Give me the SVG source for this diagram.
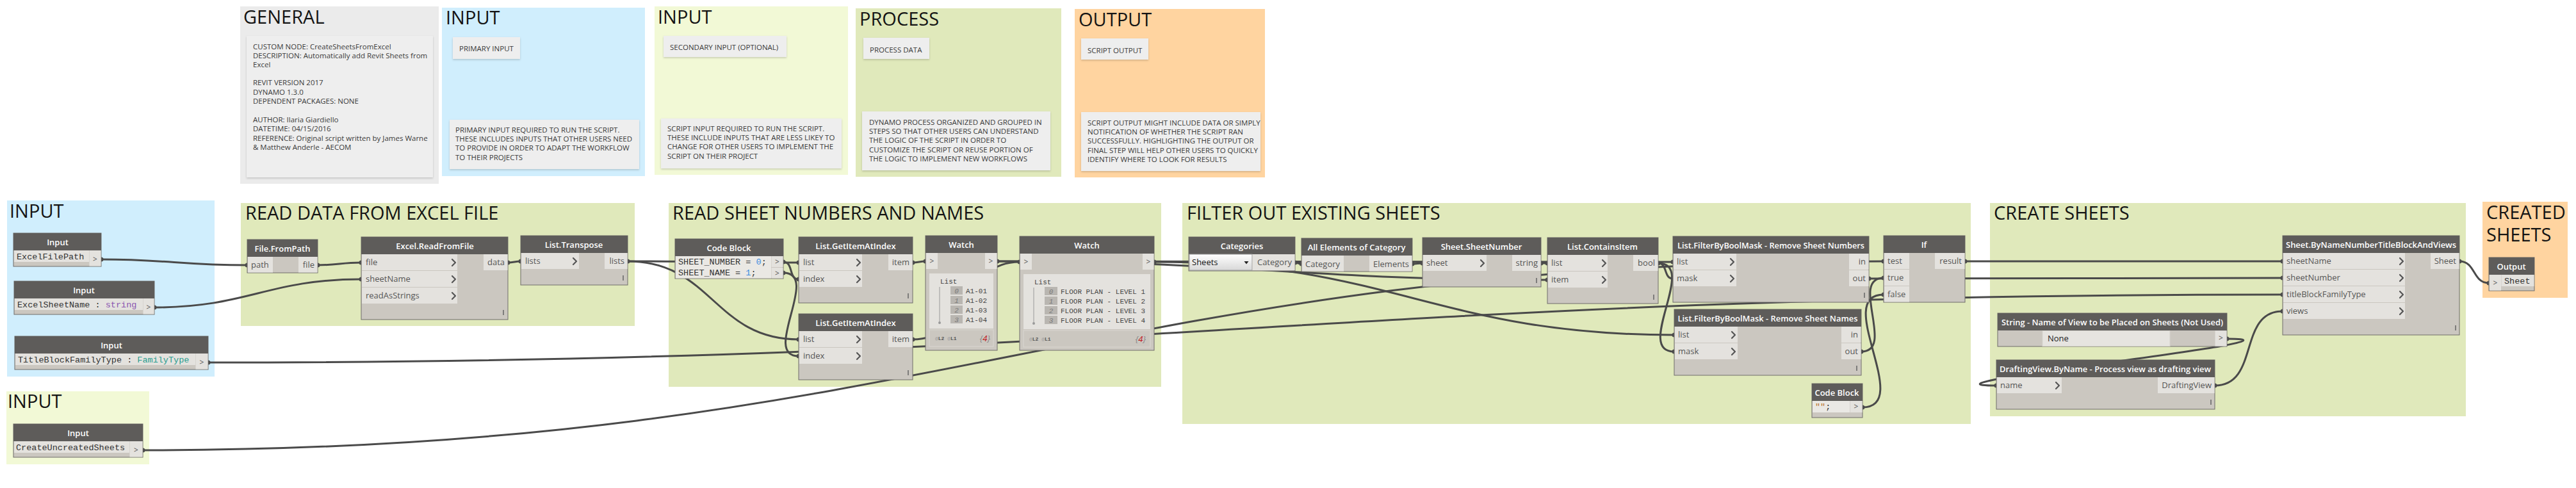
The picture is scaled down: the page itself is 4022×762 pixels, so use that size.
<svg xmlns="http://www.w3.org/2000/svg" width="4022" height="762" viewBox="0 0 4022 762">
<defs>
<style>
text { font-family: "Open Sans", "Liberation Sans", sans-serif; }
.gt { font-size: 29px; fill: #141414; }
.nt { font-size: 11.5px; fill: #3a3a3a; }
.note { fill: #EEEEEE; filter: url(#sh); }
.body { fill: #CBC7C0; stroke: #6F6D6B; stroke-width: 1; }
.hdr { fill: #5E5C5A; }
.lbl { fill: #E4E2DE; }
.code { fill: #EAE8E4; }
.tt { font-size: 13px; font-weight: 600; fill: #FFFFFF; text-anchor: middle; }
.pl { font-size: 13px; fill: #555555; }
.po { font-size: 13px; fill: #555555; text-anchor: end; }
.chev { fill: none; stroke: #555555; stroke-width: 2.2; stroke-linecap: round; stroke-linejoin: round; }
.lace { stroke: #6A6A6A; stroke-width: 1.6; }
.mono { font-family: "Liberation Mono", "DejaVu Sans Mono", monospace; }
.val { font-size: 13.5px; fill: #333333; }
.arr { font-size: 12px; fill: #555555; text-anchor: middle; }
.wv { font-size: 11px; fill: #444444; }
.wi { font-size: 11px; fill: #7A7A7A; font-style: italic; text-anchor: middle; }
.ib { fill: #B9B6B1; }
.lv { font-size: 8px; font-weight: bold; fill: #555555; }
.cnt { font-size: 13px; font-style: italic; fill: #888888; text-anchor: end; }
.wire { fill: none; stroke: #4A4A4A; stroke-width: 3; }
.knob { fill: #4A4A4A; }
.wpanel { fill: #E4E2DE; }
.wfoot { fill: none; stroke: #DAD7D2; stroke-width: 1; }
</style>
<filter id="sh" x="-5%" y="-10%" width="110%" height="125%">
<feDropShadow dx="0" dy="1.5" stdDeviation="1.5" flood-color="#000000" flood-opacity="0.18"/>
</filter>
<linearGradient id="dd" x1="0" y1="0" x2="0" y2="1">
<stop offset="0" stop-color="#FFFFFF"/>
<stop offset="1" stop-color="#D8D8D8"/>
</linearGradient>
</defs>
<rect x="0" y="0" width="4022" height="762" fill="#FFFFFF"/>

<!-- Legend groups -->
<g id="legend-general">
<rect x="375" y="10" width="310" height="277" fill="#EBEBEB"/>
<text class="gt" x="380" y="37">GENERAL</text>
<rect class="note" x="385" y="56" width="291" height="221"/>
<text class="nt" x="395" y="77">CUSTOM NODE: CreateSheetsFromExcel</text>
<text class="nt" x="395" y="91">DESCRIPTION: Automatically add Revit Sheets from</text>
<text class="nt" x="395" y="105">Excel</text>
<text class="nt" x="395" y="133">REVIT VERSION 2017</text>
<text class="nt" x="395" y="148">DYNAMO 1.3.0</text>
<text class="nt" x="395" y="162">DEPENDENT PACKAGES: NONE</text>
<text class="nt" x="395" y="191">AUTHOR: Ilaria Giardiello</text>
<text class="nt" x="395" y="205">DATETIME: 04/15/2016</text>
<text class="nt" x="395" y="220">REFERENCE: Original script written by James Warne</text>
<text class="nt" x="395" y="234">&amp; Matthew Anderle - AECOM</text>
</g>
<g id="legend-input-primary">
<rect x="690" y="12" width="317" height="263" fill="#D0EEFD"/>
<text class="gt" x="696" y="38">INPUT</text>
<rect class="note" x="707" y="58" width="105" height="34"/>
<text class="nt" x="717" y="80">PRIMARY INPUT</text>
<rect class="note" x="702" y="187" width="296" height="77"/>
<text class="nt" x="711" y="207">PRIMARY INPUT REQUIRED TO RUN THE SCRIPT.</text>
<text class="nt" x="711" y="221">THESE INCLUDES INPUTS THAT OTHER USERS NEED</text>
<text class="nt" x="711" y="235">TO PROVIDE IN ORDER TO ADAPT THE WORKFLOW</text>
<text class="nt" x="711" y="250">TO THEIR PROJECTS</text>
</g>
<g id="legend-input-secondary">
<rect x="1022" y="10" width="302" height="263" fill="#F2F9D6"/>
<text class="gt" x="1027" y="37">INPUT</text>
<rect class="note" x="1036" y="56" width="192" height="33"/>
<text class="nt" x="1046" y="78">SECONDARY INPUT (OPTIONAL)</text>
<rect class="note" x="1032" y="185" width="282" height="78"/>
<text class="nt" x="1042" y="205">SCRIPT INPUT REQUIRED TO RUN THE SCRIPT.</text>
<text class="nt" x="1042" y="219">THESE INCLUDE INPUTS THAT ARE LESS LIKEY TO</text>
<text class="nt" x="1042" y="233">CHANGE FOR OTHER USERS TO IMPLEMENT THE</text>
<text class="nt" x="1042" y="248">SCRIPT ON THEIR PROJECT</text>
</g>
<g id="legend-process">
<rect x="1336" y="13" width="321" height="263" fill="#E0E9BB"/>
<text class="gt" x="1342" y="40">PROCESS</text>
<rect class="note" x="1348" y="59" width="103" height="33"/>
<text class="nt" x="1358" y="82">PROCESS DATA</text>
<rect class="note" x="1346" y="174" width="294" height="92"/>
<text class="nt" x="1357" y="195">DYNAMO PROCESS ORGANIZED AND GROUPED IN</text>
<text class="nt" x="1357" y="209">STEPS SO THAT OTHER USERS CAN UNDERSTAND</text>
<text class="nt" x="1357" y="223">THE LOGIC OF THE SCRIPT IN ORDER TO</text>
<text class="nt" x="1357" y="238">CUSTOMIZE THE SCRIPT OR REUSE PORTION OF</text>
<text class="nt" x="1357" y="252">THE LOGIC TO IMPLEMENT NEW WORKFLOWS</text>
</g>
<g id="legend-output">
<rect x="1678" y="14" width="297" height="263" fill="#FFD4A0"/>
<text class="gt" x="1684" y="41">OUTPUT</text>
<rect class="note" x="1688" y="60" width="105" height="33"/>
<text class="nt" x="1698" y="83">SCRIPT OUTPUT</text>
<rect class="note" x="1688" y="175" width="280" height="92"/>
<text class="nt" x="1698" y="196">SCRIPT OUTPUT MIGHT INCLUDE DATA OR SIMPLY</text>
<text class="nt" x="1698" y="210">NOTIFICATION OF WHETHER THE SCRIPT RAN</text>
<text class="nt" x="1698" y="224">SUCCESSFULLY. HIGHLIGHTING THE OUTPUT OR</text>
<text class="nt" x="1698" y="239">FINAL STEP WILL HELP OTHER USERS TO QUICKLY</text>
<text class="nt" x="1698" y="253">IDENTIFY WHERE TO LOOK FOR RESULTS</text>
</g>

<!-- Workflow groups -->
<g id="group-input">
<rect x="11" y="313" width="324" height="275" fill="#D0EEFD"/>
<text class="gt" x="15" y="340">INPUT</text>
</g>
<g id="group-read-excel">
<rect x="376" y="317" width="615" height="192" fill="#E0E9BB"/>
<text class="gt" x="383" y="343">READ DATA FROM EXCEL FILE</text>
</g>
<g id="group-read-sheets">
<rect x="1044" y="317" width="769" height="287" fill="#E0E9BB"/>
<text class="gt" x="1050" y="343">READ SHEET NUMBERS AND NAMES</text>
</g>
<g id="group-filter">
<rect x="1846" y="317" width="1231" height="345" fill="#E0E9BB"/>
<text class="gt" x="1853" y="343">FILTER OUT EXISTING SHEETS</text>
</g>
<g id="group-create">
<rect x="3107" y="317" width="743" height="333" fill="#E0E9BB"/>
<text class="gt" x="3113" y="343">CREATE SHEETS</text>
</g>
<g id="group-created">
<rect x="3876" y="315" width="133" height="150" fill="#FFD4A0"/>
<text class="gt" x="3882" y="342">CREATED</text>
<text class="gt" x="3882" y="377">SHEETS</text>
</g>
<g id="group-input-bottom">
<rect x="10" y="611" width="223" height="114" fill="#F2F9D6"/>
<text class="gt" x="12" y="637">INPUT</text>
</g>

<!-- Connectors -->
<g id="connectors">
<path class="wire" d="M158 405 C260.7 405 283.3 414 386 414"/>
<path class="wire" d="M241 480 C387.7 480 417.3 436 564 436"/>
<path class="wire" d="M325 566 C1783.3 566 2105.7 460 3564 460"/>
<path class="wire" d="M223 703 C1453.3 703 1710.7 408 2941 408"/>
<path class="wire" d="M496 414 C526.6 414 533.4 410 564 410"/>
<path class="wire" d="M793 410 C802 410 804 408 813 408"/>
<path class="wire" d="M980 408 C1100.2 408 1126.8 410 1247 410"/>
<path class="wire" d="M980 408 C1112.1 408 1114.9 530 1247 530"/>
<path class="wire" d="M1223 409 C1239.2 409 1230.8 436 1247 436"/>
<path class="wire" d="M1223 426 C1282.5 426 1187.5 556 1247 556"/>
<path class="wire" d="M1425 410 C1434 410 1436 408 1445 408"/>
<path class="wire" d="M1425 530 C1517.8 530 1499.2 409 1592 409"/>
<path class="wire" d="M1557 408 C1943.8 408 2029.2 437 2416 437"/>
<path class="wire" d="M1557 408 C2031.8 408 2137.2 409 2612 409"/>
<path class="wire" d="M1802 409 C2171 409 2245 523 2614 523"/>
<path class="wire" d="M2022 410 C2026.5 410 2027.5 412 2032 412"/>
<path class="wire" d="M2205 412 C2212 412 2214 411 2221 411"/>
<path class="wire" d="M2406 411 L2416 411"/>
<path class="wire" d="M2589 411 C2604 411 2597 435 2612 435"/>
<path class="wire" d="M2589 411 C2652.1 411 2550.9 549 2614 549"/>
<path class="wire" d="M2918 435 C3208.7 435 3273.3 434 3564 434"/>
<path class="wire" d="M2906 549 C2960.1 549 2886.9 434 2941 434"/>
<path class="wire" d="M2908 636 C2988.6 636 2860.4 460 2941 460"/>
<path class="wire" d="M3068 408 C3291.2 408 3340.8 408 3564 408"/>
<path class="wire" d="M3477 529 C3642.3 529 2951.7 602 3117 602"/>
<path class="wire" d="M3458 602 C3528.7 602 3493.3 486 3564 486"/>
<path class="wire" d="M3840 408 C3865.7 408 3860.3 442 3886 442"/>
<g class="knob">
<circle cx="158" cy="405" r="3.5"/><circle cx="386" cy="414" r="3.5"/>
<circle cx="241" cy="480" r="3.5"/><circle cx="564" cy="436" r="3.5"/>
<circle cx="325" cy="566" r="3.5"/><circle cx="3564" cy="460" r="3.5"/>
<circle cx="223" cy="703" r="3.5"/><circle cx="2941" cy="408" r="3.5"/>
<circle cx="496" cy="414" r="3.5"/><circle cx="564" cy="410" r="3.5"/>
<circle cx="793" cy="410" r="3.5"/><circle cx="813" cy="408" r="3.5"/>
<circle cx="980" cy="408" r="3.5"/><circle cx="1247" cy="410" r="3.5"/><circle cx="1247" cy="530" r="3.5"/>
<circle cx="1223" cy="409" r="3.5"/><circle cx="1247" cy="436" r="3.5"/>
<circle cx="1223" cy="426" r="3.5"/><circle cx="1247" cy="556" r="3.5"/>
<circle cx="1425" cy="410" r="3.5"/><circle cx="1445" cy="408" r="3.5"/>
<circle cx="1425" cy="530" r="3.5"/><circle cx="1592" cy="409" r="3.5"/>
<circle cx="1557" cy="408" r="3.5"/><circle cx="2416" cy="437" r="3.5"/><circle cx="2612" cy="409" r="3.5"/>
<circle cx="1802" cy="409" r="3.5"/><circle cx="2614" cy="523" r="3.5"/>
<circle cx="2022" cy="410" r="3.5"/><circle cx="2032" cy="412" r="3.5"/>
<circle cx="2205" cy="412" r="3.5"/><circle cx="2221" cy="411" r="3.5"/>
<circle cx="2406" cy="411" r="3.5"/><circle cx="2416" cy="411" r="3.5"/>
<circle cx="2589" cy="411" r="3.5"/><circle cx="2612" cy="435" r="3.5"/><circle cx="2614" cy="549" r="3.5"/>
<circle cx="2918" cy="435" r="3.5"/><circle cx="3564" cy="434" r="3.5"/>
<circle cx="2906" cy="549" r="3.5"/><circle cx="2941" cy="434" r="3.5"/>
<circle cx="2908" cy="636" r="3.5"/><circle cx="2941" cy="460" r="3.5"/>
<circle cx="3068" cy="408" r="3.5"/><circle cx="3564" cy="408" r="3.5"/>
<circle cx="3477" cy="529" r="3.5"/><circle cx="3117" cy="602" r="3.5"/>
<circle cx="3458" cy="602" r="3.5"/><circle cx="3564" cy="486" r="3.5"/>
<circle cx="3840" cy="408" r="3.5"/><circle cx="3886" cy="442" r="3.5"/>
</g>
</g>

<!-- Nodes -->
<g id="node-input-excelfilepath">
<rect class="body" x="21" y="364" width="137" height="52"/>
<rect class="hdr" x="21" y="364" width="137" height="27"/>
<text class="tt" x="90" y="383">Input</text>
<rect class="lbl" x="22" y="391" width="117" height="18"/>
<rect class="lbl" x="139.5" y="391" width="18" height="24.5"/>
<text class="mono val" x="26" y="405">ExcelFilePath</text>
<text class="arr" x="148.5" y="409">&gt;</text>
</g>
<g id="node-input-excelsheetname">
<rect class="body" x="22" y="439" width="219" height="52"/>
<rect class="hdr" x="22" y="439" width="219" height="27"/>
<text class="tt" x="131" y="458">Input</text>
<rect class="lbl" x="23" y="466" width="200" height="18"/>
<rect class="lbl" x="223.5" y="466" width="17" height="24.5"/>
<text class="mono val" x="27" y="480">ExcelSheetName : <tspan fill="#8A55B0">string</tspan></text>
<text class="arr" x="232" y="484">&gt;</text>
</g>
<g id="node-input-titleblock">
<rect class="body" x="23" y="525" width="302" height="52"/>
<rect class="hdr" x="23" y="525" width="302" height="27"/>
<text class="tt" x="174" y="544">Input</text>
<rect class="lbl" x="24" y="552" width="281" height="18"/>
<rect class="lbl" x="305.5" y="552" width="19" height="24.5"/>
<text class="mono val" x="28" y="566">TitleBlockFamilyType : <tspan fill="#2A9D8F">FamilyType</tspan></text>
<text class="arr" x="315" y="570">&gt;</text>
</g>
<g id="node-input-createuncreated">
<rect class="body" x="21" y="662" width="202" height="52"/>
<rect class="hdr" x="21" y="662" width="202" height="27"/>
<text class="tt" x="122" y="681">Input</text>
<rect class="lbl" x="22" y="689" width="180" height="18"/>
<rect class="lbl" x="202.5" y="689" width="20" height="24.5"/>
<text class="mono val" x="25" y="703">CreateUncreatedSheets</text>
<text class="arr" x="212.5" y="707">&gt;</text>
</g>

<g id="node-file-frompath">
<rect class="body" x="386" y="374" width="110" height="52"/>
<rect class="hdr" x="386" y="374" width="110" height="27"/>
<text class="tt" x="441" y="393">File.FromPath</text>
<rect class="lbl" x="387" y="401" width="39" height="24.5"/>
<rect class="lbl" x="466" y="401" width="29.5" height="24.5"/>
<text class="pl" x="392" y="418">path</text>
<text class="po" x="491" y="418">file</text>
</g>
<g id="node-excel-readfromfile">
<rect class="body" x="564" y="370" width="229" height="129"/>
<rect class="hdr" x="564" y="370" width="229" height="27"/>
<text class="tt" x="679" y="389">Excel.ReadFromFile</text>
<rect class="lbl" x="565" y="397" width="149" height="25"/>
<rect class="lbl" x="565" y="423" width="149" height="25"/>
<rect class="lbl" x="565" y="449" width="149" height="25"/>
<text class="pl" x="571" y="414">file</text>
<text class="pl" x="571" y="440">sheetName</text>
<text class="pl" x="571" y="466">readAsStrings</text>
<path class="chev" d="M706 405 L711 410 L706 415 M706 431 L711 436 L706 441 M706 457 L711 462 L706 467"/>
<rect class="lbl" x="755" y="397" width="37.5" height="25"/>
<text class="po" x="788" y="414">data</text>
<line class="lace" x1="786" y1="484" x2="786" y2="492"/>
</g>
<g id="node-list-transpose">
<rect class="body" x="813" y="368" width="167" height="77"/>
<rect class="hdr" x="813" y="368" width="167" height="27"/>
<text class="tt" x="896" y="387">List.Transpose</text>
<rect class="lbl" x="814" y="395" width="90" height="25"/>
<text class="pl" x="820" y="412">lists</text>
<path class="chev" d="M895 403 L900 408 L895 413"/>
<rect class="lbl" x="944" y="395" width="35.5" height="25"/>
<text class="po" x="975" y="412">lists</text>
<line class="lace" x1="973" y1="430" x2="973" y2="438"/>
</g>

<g id="node-code-block-indices">
<rect class="body" x="1054" y="373" width="169" height="62"/>
<rect class="hdr" x="1054" y="373" width="169" height="27"/>
<text class="tt" x="1138" y="392">Code Block</text>
<rect class="code" x="1055" y="400" width="149" height="34.5"/>
<rect class="lbl" x="1204.5" y="400" width="18" height="17"/>
<rect class="lbl" x="1204.5" y="418" width="18" height="16.5"/>
<text class="mono val" x="1059" y="413">SHEET_NUMBER = <tspan fill="#3C8CE0">0</tspan>;</text>
<text class="mono val" x="1059" y="430">SHEET_NAME = <tspan fill="#3C8CE0">1</tspan>;</text>
<text class="arr" x="1213.5" y="413">&gt;</text>
<text class="arr" x="1213.5" y="431">&gt;</text>
</g>
<g id="node-getitem-numbers">
<rect class="body" x="1247" y="370" width="178" height="103"/>
<rect class="hdr" x="1247" y="370" width="178" height="27"/>
<text class="tt" x="1336" y="389">List.GetItemAtIndex</text>
<rect class="lbl" x="1248" y="397" width="98" height="25"/>
<rect class="lbl" x="1248" y="423" width="98" height="25"/>
<text class="pl" x="1254" y="414">list</text>
<text class="pl" x="1254" y="440">index</text>
<path class="chev" d="M1338 405 L1343 410 L1338 415 M1338 431 L1343 436 L1338 441"/>
<rect class="lbl" x="1387" y="397" width="37.5" height="25"/>
<text class="po" x="1420" y="414">item</text>
<line class="lace" x1="1418" y1="458" x2="1418" y2="466"/>
</g>
<g id="node-getitem-names">
<rect class="body" x="1247" y="490" width="178" height="103"/>
<rect class="hdr" x="1247" y="490" width="178" height="27"/>
<text class="tt" x="1336" y="509">List.GetItemAtIndex</text>
<rect class="lbl" x="1248" y="517" width="98" height="25"/>
<rect class="lbl" x="1248" y="543" width="98" height="25"/>
<text class="pl" x="1254" y="534">list</text>
<text class="pl" x="1254" y="560">index</text>
<path class="chev" d="M1338 525 L1343 530 L1338 535 M1338 551 L1343 556 L1338 561"/>
<rect class="lbl" x="1387" y="517" width="37.5" height="25"/>
<text class="po" x="1420" y="534">item</text>
<line class="lace" x1="1418" y1="578" x2="1418" y2="586"/>
</g>
<g id="node-watch-numbers">
<rect class="body" x="1445" y="368" width="112" height="179"/>
<rect class="hdr" x="1445" y="368" width="112" height="27"/>
<text class="tt" x="1501" y="387">Watch</text>
<rect class="lbl" x="1446" y="395" width="18" height="25"/>
<rect class="lbl" x="1538" y="395" width="18.5" height="25"/>
<text class="arr" x="1455" y="412">&gt;</text>
<text class="arr" x="1547" y="412">&gt;</text>
<rect class="wpanel" x="1451" y="427" width="100" height="86"/>
<text class="mono wv" x="1468" y="443">List</text>
<line x1="1467" y1="448" x2="1467" y2="503" stroke="#9A9A9A" stroke-width="1"/>
<circle cx="1467" cy="504" r="2" fill="#9A9A9A"/>
<rect class="ib" x="1484" y="447" width="19" height="13"/>
<rect class="ib" x="1484" y="462" width="19" height="13"/>
<rect class="ib" x="1484" y="477" width="19" height="13"/>
<rect class="ib" x="1484" y="492" width="19" height="13"/>
<text class="mono wi" x="1493.5" y="458">0</text>
<text class="mono wi" x="1493.5" y="473">1</text>
<text class="mono wi" x="1493.5" y="488">2</text>
<text class="mono wi" x="1493.5" y="503">3</text>
<text class="mono wv" x="1508" y="458">A1-01</text>
<text class="mono wv" x="1508" y="473">A1-02</text>
<text class="mono wv" x="1508" y="488">A1-03</text>
<text class="mono wv" x="1508" y="503">A1-04</text>
<rect class="wfoot" x="1451" y="515" width="100" height="26"/>
<text class="mono lv" x="1460" y="531"><tspan fill="#A5A5A5">@</tspan>L2 <tspan fill="#A5A5A5">@</tspan>L1</text>
<text class="cnt" x="1546" y="533">{<tspan fill="#C0141B">4</tspan>}</text>
</g>
<g id="node-watch-names">
<rect class="body" x="1592" y="369" width="210" height="178"/>
<rect class="hdr" x="1592" y="369" width="210" height="27"/>
<text class="tt" x="1697" y="388">Watch</text>
<rect class="lbl" x="1593" y="396" width="18" height="25"/>
<rect class="lbl" x="1784" y="396" width="17.5" height="25"/>
<text class="arr" x="1602" y="413">&gt;</text>
<text class="arr" x="1793" y="413">&gt;</text>
<rect class="wpanel" x="1598" y="428" width="198" height="86"/>
<text class="mono wv" x="1615" y="444">List</text>
<line x1="1614" y1="449" x2="1614" y2="504" stroke="#9A9A9A" stroke-width="1"/>
<circle cx="1614" cy="505" r="2" fill="#9A9A9A"/>
<rect class="ib" x="1631" y="448" width="20" height="13"/>
<rect class="ib" x="1631" y="463" width="20" height="13"/>
<rect class="ib" x="1631" y="478" width="20" height="13"/>
<rect class="ib" x="1631" y="493" width="20" height="13"/>
<text class="mono wi" x="1641" y="459">0</text>
<text class="mono wi" x="1641" y="474">1</text>
<text class="mono wi" x="1641" y="489">2</text>
<text class="mono wi" x="1641" y="504">3</text>
<text class="mono wv" x="1656" y="459">FLOOR PLAN - LEVEL 1</text>
<text class="mono wv" x="1656" y="474">FLOOR PLAN - LEVEL 2</text>
<text class="mono wv" x="1656" y="489">FLOOR PLAN - LEVEL 3</text>
<text class="mono wv" x="1656" y="504">FLOOR PLAN - LEVEL 4</text>
<rect class="wfoot" x="1598" y="516" width="198" height="26"/>
<text class="mono lv" x="1607" y="532"><tspan fill="#A5A5A5">@</tspan>L2 <tspan fill="#A5A5A5">@</tspan>L1</text>
<text class="cnt" x="1789" y="534">{<tspan fill="#C0141B">4</tspan>}</text>
</g>

<g id="node-categories">
<rect class="body" x="1856" y="370" width="166" height="53"/>
<rect class="hdr" x="1856" y="370" width="166" height="27"/>
<text class="tt" x="1939" y="389">Categories</text>
<rect x="1857" y="397" width="98" height="25" fill="url(#dd)" stroke="#9A9A9A" stroke-width="1"/>
<text x="1861" y="414" font-size="13" fill="#111111">Sheets</text>
<path d="M1942.5 408 L1949.5 408 L1946 412.5 Z" fill="#222222"/>
<rect class="lbl" x="1955.5" y="397" width="66" height="25"/>
<text class="po" x="2017" y="414">Category</text>
</g>
<g id="node-all-elements-of-category">
<rect class="body" x="2032" y="372" width="173" height="52"/>
<rect class="hdr" x="2032" y="372" width="173" height="27"/>
<text class="tt" x="2118" y="391">All Elements of Category</text>
<rect class="lbl" x="2033" y="399" width="65" height="24.5"/>
<rect class="lbl" x="2138" y="399" width="66.5" height="24.5"/>
<text class="pl" x="2038" y="417">Category</text>
<text class="po" x="2200" y="417">Elements</text>
</g>
<g id="node-sheet-sheetnumber">
<rect class="body" x="2221" y="371" width="185" height="77"/>
<rect class="hdr" x="2221" y="371" width="185" height="27"/>
<text class="tt" x="2313" y="390">Sheet.SheetNumber</text>
<rect class="lbl" x="2222" y="398" width="99" height="25"/>
<text class="pl" x="2227" y="415">sheet</text>
<path class="chev" d="M2312 406 L2317 411 L2312 416"/>
<rect class="lbl" x="2361" y="398" width="44.5" height="25"/>
<text class="po" x="2401" y="415">string</text>
<line class="lace" x1="2399" y1="434" x2="2399" y2="442"/>
</g>
<g id="node-list-containsitem">
<rect class="body" x="2416" y="371" width="173" height="103"/>
<rect class="hdr" x="2416" y="371" width="173" height="27"/>
<text class="tt" x="2502" y="390">List.ContainsItem</text>
<rect class="lbl" x="2417" y="398" width="93" height="25"/>
<rect class="lbl" x="2417" y="424" width="93" height="25"/>
<text class="pl" x="2422" y="415">list</text>
<text class="pl" x="2422" y="441">item</text>
<path class="chev" d="M2502 406 L2507 411 L2502 416 M2502 432 L2507 437 L2502 442"/>
<rect class="lbl" x="2550" y="398" width="38.5" height="25"/>
<text class="po" x="2584" y="415">bool</text>
<line class="lace" x1="2582" y1="460" x2="2582" y2="468"/>
</g>
<g id="node-filter-sheet-numbers">
<rect class="body" x="2612" y="369" width="306" height="103"/>
<rect class="hdr" x="2612" y="369" width="306" height="27"/>
<text class="tt" x="2765" y="388" textLength="292" lengthAdjust="spacingAndGlyphs">List.FilterByBoolMask - Remove Sheet Numbers</text>
<rect class="lbl" x="2613" y="396" width="98" height="25"/>
<rect class="lbl" x="2613" y="422" width="98" height="25"/>
<text class="pl" x="2618" y="413">list</text>
<text class="pl" x="2618" y="439">mask</text>
<path class="chev" d="M2702 404 L2707 409 L2702 414 M2702 430 L2707 435 L2702 440"/>
<rect class="lbl" x="2887" y="396" width="30.5" height="25"/>
<rect class="lbl" x="2887" y="422" width="30.5" height="25"/>
<text class="po" x="2913" y="413">in</text>
<text class="po" x="2913" y="439">out</text>
<line class="lace" x1="2911" y1="457" x2="2911" y2="465"/>
</g>
<g id="node-filter-sheet-names">
<rect class="body" x="2614" y="483" width="292" height="103"/>
<rect class="hdr" x="2614" y="483" width="292" height="27"/>
<text class="tt" x="2760" y="502" textLength="281" lengthAdjust="spacingAndGlyphs">List.FilterByBoolMask - Remove Sheet Names</text>
<rect class="lbl" x="2615" y="510" width="98" height="25"/>
<rect class="lbl" x="2615" y="536" width="98" height="25"/>
<text class="pl" x="2620" y="527">list</text>
<text class="pl" x="2620" y="553">mask</text>
<path class="chev" d="M2704 518 L2709 523 L2704 528 M2704 544 L2709 549 L2704 554"/>
<rect class="lbl" x="2875" y="510" width="30.5" height="25"/>
<rect class="lbl" x="2875" y="536" width="30.5" height="25"/>
<text class="po" x="2901" y="527">in</text>
<text class="po" x="2901" y="553">out</text>
<line class="lace" x1="2899" y1="571" x2="2899" y2="579"/>
</g>
<g id="node-if">
<rect class="body" x="2941" y="368" width="127" height="104"/>
<rect class="hdr" x="2941" y="368" width="127" height="27"/>
<text class="tt" x="3004" y="387">If</text>
<rect class="lbl" x="2942" y="395" width="39" height="25"/>
<rect class="lbl" x="2942" y="421" width="39" height="25"/>
<rect class="lbl" x="2942" y="447" width="39" height="24.5"/>
<text class="pl" x="2947" y="412">test</text>
<text class="pl" x="2947" y="438">true</text>
<text class="pl" x="2947" y="464">false</text>
<rect class="lbl" x="3021" y="395" width="46.5" height="25"/>
<text class="po" x="3063" y="412">result</text>
</g>
<g id="node-code-block-empty">
<rect class="body" x="2829" y="599" width="79" height="53"/>
<rect class="hdr" x="2829" y="599" width="79" height="27"/>
<text class="tt" x="2868" y="618">Code Block</text>
<rect class="code" x="2830" y="626" width="58" height="18"/>
<rect class="lbl" x="2888.5" y="626" width="19" height="18"/>
<text class="mono val" x="2834" y="639"><tspan fill="#B8702A">""</tspan>;</text>
<text class="arr" x="2898" y="639">&gt;</text>
</g>

<g id="node-string-view-name">
<rect class="body" x="3119" y="489" width="358" height="52"/>
<rect class="hdr" x="3119" y="489" width="358" height="27"/>
<text class="tt" x="3298" y="508" textLength="346" lengthAdjust="spacingAndGlyphs">String - Name of View to be Placed on Sheets (Not Used)</text>
<rect x="3189" y="516.5" width="199" height="24" fill="#E6E4E0" stroke="#D6D3CE" stroke-width="1"/>
<text x="3197" y="533" font-size="13" fill="#222222">None</text>
<rect class="lbl" x="3458.5" y="516.5" width="18" height="24"/>
<text class="arr" x="3467.5" y="532">&gt;</text>
</g>
<g id="node-draftingview-byname">
<rect class="body" x="3117" y="562" width="341" height="77"/>
<rect class="hdr" x="3117" y="562" width="341" height="27"/>
<text class="tt" x="3287" y="581" textLength="330" lengthAdjust="spacingAndGlyphs">DraftingView.ByName - Process view as drafting view</text>
<rect class="lbl" x="3118" y="589" width="101" height="25"/>
<text class="pl" x="3123" y="606">name</text>
<path class="chev" d="M3210 597 L3215 602 L3210 607"/>
<rect class="lbl" x="3369" y="589" width="88.5" height="25"/>
<text class="po" x="3453" y="606">DraftingView</text>
<line class="lace" x1="3452" y1="624" x2="3452" y2="632"/>
</g>
<g id="node-sheet-bynamenumbertitleblockandviews">
<rect class="body" x="3564" y="368" width="276" height="155"/>
<rect class="hdr" x="3564" y="368" width="276" height="27"/>
<text class="tt" x="3702" y="387" textLength="266" lengthAdjust="spacingAndGlyphs">Sheet.ByNameNumberTitleBlockAndViews</text>
<rect class="lbl" x="3565" y="395" width="190" height="25"/>
<rect class="lbl" x="3565" y="421" width="190" height="25"/>
<rect class="lbl" x="3565" y="447" width="190" height="25"/>
<rect class="lbl" x="3565" y="473" width="190" height="25"/>
<text class="pl" x="3570" y="412">sheetName</text>
<text class="pl" x="3570" y="438">sheetNumber</text>
<text class="pl" x="3570" y="464">titleBlockFamilyType</text>
<text class="pl" x="3570" y="490">views</text>
<path class="chev" d="M3747 403 L3752 408 L3747 413 M3747 429 L3752 434 L3747 439 M3747 455 L3752 460 L3747 465 M3747 481 L3752 486 L3747 491"/>
<rect class="lbl" x="3795" y="395" width="44.5" height="25"/>
<text class="po" x="3835" y="412">Sheet</text>
<line class="lace" x1="3834" y1="508" x2="3834" y2="516"/>
</g>
<g id="node-output-sheet">
<rect class="body" x="3886" y="402" width="71" height="52"/>
<rect class="hdr" x="3886" y="402" width="71" height="27"/>
<text class="tt" x="3921" y="421">Output</text>
<rect class="lbl" x="3887" y="429" width="18" height="24.5"/>
<rect class="lbl" x="3905.5" y="429" width="51" height="18"/>
<text class="arr" x="3896" y="446">&gt;</text>
<text class="mono val" x="3910" y="443" fill="#2A9D8F">Sheet</text>
</g>
</svg>
